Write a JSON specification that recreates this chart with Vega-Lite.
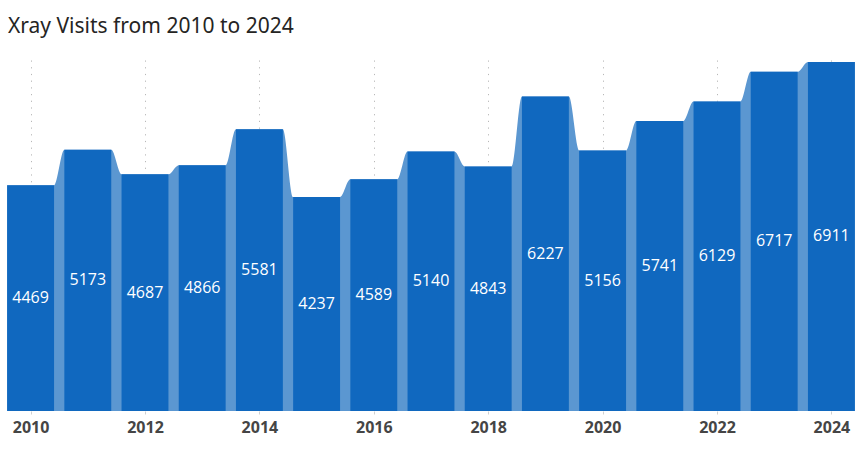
{
  "$schema": "https://vega.github.io/schema/vega-lite/v6.json",
  "width": 858,
  "height": 351,
  "autosize": {"type": "none"},
  "padding": {"left": 2, "top": 60, "right": 5, "bottom": 42},
  "background": "white",
  "title": {
    "text": "Xray Visits from 2010 to 2024",
    "anchor": "start",
    "frame": "group",
    "baseline": "alphabetic",
    "offset": 6,
    "dx": 6,
    "font": "Noto Sans",
    "fontSize": 21,
    "fontWeight": "normal",
    "color": "#252423"
  },
  "config": {"view": {"stroke": null}},
  "data": {
    "values": [
      {"year": 2010, "visits": 4469},
      {"year": 2011, "visits": 5173},
      {"year": 2012, "visits": 4687},
      {"year": 2013, "visits": 4866},
      {"year": 2014, "visits": 5581},
      {"year": 2015, "visits": 4237},
      {"year": 2016, "visits": 4589},
      {"year": 2017, "visits": 5140},
      {"year": 2018, "visits": 4843},
      {"year": 2019, "visits": 6227},
      {"year": 2020, "visits": 5156},
      {"year": 2021, "visits": 5741},
      {"year": 2022, "visits": 6129},
      {"year": 2023, "visits": 6717},
      {"year": 2024, "visits": 6911}
    ]
  },
  "transform": [
    {"calculate": "datum.year - 0.41", "as": "xl"},
    {"calculate": "datum.year + 0.41", "as": "xr"},
    {"calculate": "datum.visits / 2", "as": "mid"}
  ],
  "layer": [
    {
      "transform": [{"fold": ["xl", "xr"], "as": ["edge", "xpos"]}],
      "mark": {"type": "area", "interpolate": "monotone", "color": "#5B97D1"},
      "encoding": {
        "x": {
          "field": "xpos",
          "type": "quantitative",
          "scale": {"domain": [2009.5, 2024.5], "nice": false, "zero": false},
          "axis": {
            "values": [2010, 2012, 2014, 2016, 2018, 2020, 2022, 2024],
            "format": "d",
            "title": null,
            "domain": false,
            "grid": true,
            "gridColor": "#b8b8b8",
            "gridDash": [1.2, 5.5],
            "gridWidth": 1,
            "ticks": true,
            "tickSize": 3,
            "tickColor": "#d0d0d0",
            "labelFont": "Open Sans",
            "labelFontWeight": "bold",
            "labelFontSize": 16,
            "labelColor": "#454545",
            "labelPadding": 5
          }
        },
        "y": {
          "field": "visits",
          "type": "quantitative",
          "scale": {"domain": [0, 6950], "nice": false},
          "axis": null
        }
      }
    },
    {
      "mark": {"type": "rect", "color": "#1068BF"},
      "encoding": {
        "x": {"field": "xl", "type": "quantitative"},
        "x2": {"field": "xr"},
        "y": {"field": "visits", "type": "quantitative"},
        "y2": {"datum": 0}
      }
    },
    {
      "mark": {"type": "text", "color": "white", "font": "Open Sans", "fontSize": 16, "fontWeight": 500, "baseline": "middle"},
      "encoding": {
        "x": {"field": "year", "type": "quantitative"},
        "y": {"field": "mid", "type": "quantitative"},
        "text": {"field": "visits", "type": "quantitative", "format": "d"}
      }
    }
  ]
}
